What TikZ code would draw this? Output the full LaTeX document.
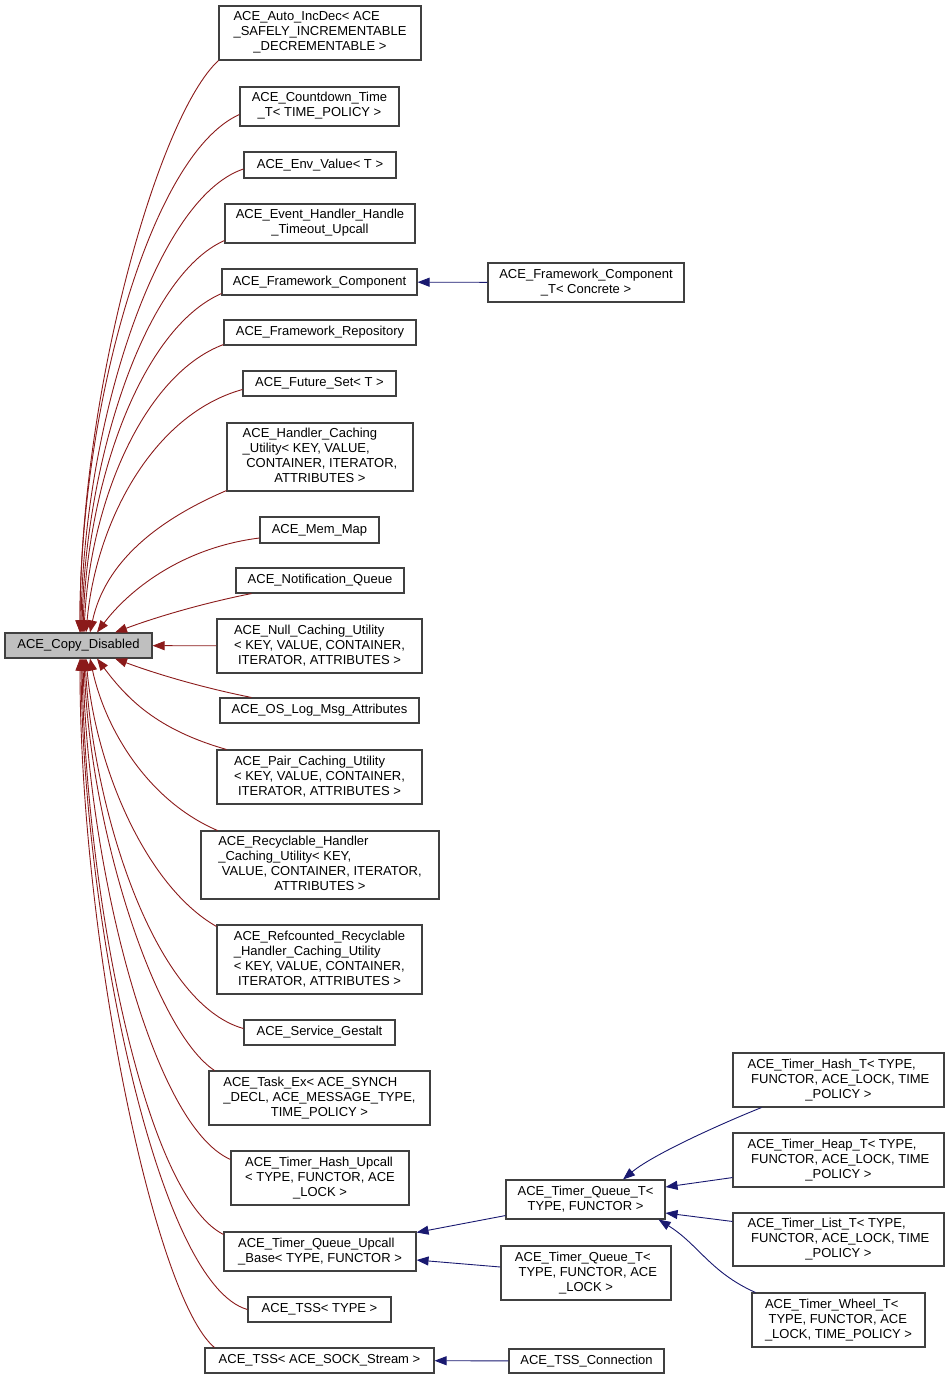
\documentclass[tikz,border=0pt]{standalone}
\usepackage{fontspec}
\setmainfont{Liberation Sans}
\usepackage{xcolor}
\usepackage{tikz}
\usetikzlibrary{arrows.meta}
\definecolor{edgered}{RGB}{139,26,26}
\definecolor{edgeblue}{RGB}{25,25,112}
\newcommand{\lbl}[1]{\begin{tabular}{@{}l@{}}#1\end{tabular}}
\newcommand{\lastln}[1]{\multicolumn{1}{@{}c@{}}{#1}}
\tikzset{
    cls/.style={rectangle, draw=black!75, line width=1.1pt, fill=white, inner sep=0pt, font=\fontsize{13}{15}\selectfont},
    rootcls/.style={cls, fill=gray!50},
    redinh/.style={-{Triangle[length=12pt,width=9pt]}, draw=edgered, fill=none, line width=0.9pt},
    blueinh/.style={-{Triangle[length=12pt,width=9pt]}, draw=edgeblue, fill=none, line width=0.9pt}
}

\begin{document}
\begin{tikzpicture}[x=1pt, y=-1pt]
    \useasboundingbox (0,0) rectangle (949,1380);

    % Base class
    \node[rootcls, minimum width=147pt, minimum height=25pt] (copydis) at (78.5,645.5) {ACE\_Copy\_Disabled};

    % Derived classes
    \node[cls, minimum width=202pt, minimum height=54pt] (autoinc) at (320,33) {\lbl{ACE\_Auto\_IncDec< ACE\\ \_SAFELY\_INCREMENTABLE\\ \lastln{\_DECREMENTABLE >}}};
    \node[cls, minimum width=159pt, minimum height=39pt] (countdown) at (319.5,106.5) {\lbl{ACE\_Countdown\_Time\\ \lastln{\_T< TIME\_POLICY >}}};
    \node[cls, minimum width=152pt, minimum height=26pt] (envvalue) at (320,165) {ACE\_Env\_Value< T >};
    \node[cls, minimum width=190pt, minimum height=39pt] (evhandler) at (320,223.5) {\lbl{ACE\_Event\_Handler\_Handle\\ \lastln{\_Timeout\_Upcall}}};
    \node[cls, minimum width=195pt, minimum height=26pt] (fwcomp) at (319.5,282) {ACE\_Framework\_Component};
    \node[cls, minimum width=192pt, minimum height=25pt] (fwrepo) at (320,332.5) {ACE\_Framework\_Repository};
    \node[cls, minimum width=153pt, minimum height=25pt] (futureset) at (319.5,383.5) {ACE\_Future\_Set< T >};
    \node[cls, minimum width=186pt, minimum height=68pt] (hcaching) at (320,457) {\lbl{ACE\_Handler\_Caching\\ \_Utility< KEY, VALUE,\\ \ CONTAINER, ITERATOR,\\ \lastln{ATTRIBUTES >}}};
    \node[cls, minimum width=119pt, minimum height=26pt] (memmap) at (319.5,530) {ACE\_Mem\_Map};
    \node[cls, minimum width=168pt, minimum height=25pt] (notifq) at (320,580.5) {ACE\_Notification\_Queue};
    \node[cls, minimum width=205pt, minimum height=54pt] (nullcaching) at (319.5,646) {\lbl{ACE\_Null\_Caching\_Utility\\ < KEY, VALUE, CONTAINER,\\ \lastln{ITERATOR, ATTRIBUTES >}}};
    \node[cls, minimum width=199pt, minimum height=25pt] (oslog) at (319.5,710.5) {ACE\_OS\_Log\_Msg\_Attributes};
    \node[cls, minimum width=205pt, minimum height=54pt] (paircaching) at (319.5,777) {\lbl{ACE\_Pair\_Caching\_Utility\\ < KEY, VALUE, CONTAINER,\\ \lastln{ITERATOR, ATTRIBUTES >}}};
    \node[cls, minimum width=238pt, minimum height=68pt] (recyc) at (320,865) {\lbl{ACE\_Recyclable\_Handler\\ \_Caching\_Utility< KEY,\\ \ VALUE, CONTAINER, ITERATOR,\\ \lastln{ATTRIBUTES >}}};
    \node[cls, minimum width=205pt, minimum height=69pt] (refrecyc) at (319.5,959.5) {\lbl{ACE\_Refcounted\_Recyclable\\ \_Handler\_Caching\_Utility\\ < KEY, VALUE, CONTAINER,\\ \lastln{ITERATOR, ATTRIBUTES >}}};
    \node[cls, minimum width=151pt, minimum height=25pt] (gestalt) at (319.5,1032.5) {ACE\_Service\_Gestalt};
    \node[cls, minimum width=221pt, minimum height=54pt] (taskex) at (319.5,1098) {\lbl{ACE\_Task\_Ex< ACE\_SYNCH\\ \_DECL, ACE\_MESSAGE\_TYPE,\\ \lastln{TIME\_POLICY >}}};
    \node[cls, minimum width=178pt, minimum height=54pt] (hashupcall) at (320,1178) {\lbl{ACE\_Timer\_Hash\_Upcall\\ < TYPE, FUNCTOR, ACE\\ \lastln{\_LOCK >}}};
    \node[cls, minimum width=192pt, minimum height=39pt] (upcallbase) at (320,1251.5) {\lbl{ACE\_Timer\_Queue\_Upcall\\ \lastln{\_Base< TYPE, FUNCTOR >}}};
    \node[cls, minimum width=143pt, minimum height=25pt] (tsstype) at (319.5,1309.5) {ACE\_TSS< TYPE >};
    \node[cls, minimum width=229pt, minimum height=25pt] (tsssock) at (319.5,1360.5) {ACE\_TSS< ACE\_SOCK\_Stream >};

    % Second level
    \node[cls, minimum width=196pt, minimum height=39pt] (fwcompt) at (586,282.5) {\lbl{ACE\_Framework\_Component\\ \lastln{\_T< Concrete >}}};
    \node[cls, minimum width=159pt, minimum height=39pt] (tqt) at (585.5,1199.5) {\lbl{ACE\_Timer\_Queue\_T<\\ \lastln{TYPE, FUNCTOR >}}};
    \node[cls, minimum width=170pt, minimum height=54pt] (tqtlock) at (586,1273) {\lbl{ACE\_Timer\_Queue\_T<\\ \ TYPE, FUNCTOR, ACE\\ \lastln{\_LOCK >}}};
    \node[cls, minimum width=155pt, minimum height=24pt] (tssconn) at (586.5,1361) {ACE\_TSS\_Connection};

    % Timer queues
    \node[cls, minimum width=211pt, minimum height=54pt] (timerhash) at (838.5,1080) {\lbl{ACE\_Timer\_Hash\_T< TYPE,\\ \ FUNCTOR, ACE\_LOCK, TIME\\ \lastln{\_POLICY >}}};
    \node[cls, minimum width=211pt, minimum height=54pt] (timerheap) at (838.5,1160) {\lbl{ACE\_Timer\_Heap\_T< TYPE,\\ \ FUNCTOR, ACE\_LOCK, TIME\\ \lastln{\_POLICY >}}};
    \node[cls, minimum width=211pt, minimum height=53pt] (timerlist) at (838.5,1239.5) {\lbl{ACE\_Timer\_List\_T< TYPE,\\ \ FUNCTOR, ACE\_LOCK, TIME\\ \lastln{\_POLICY >}}};
    \node[cls, minimum width=173pt, minimum height=54pt] (timerwheel) at (838.5,1320) {\lbl{ACE\_Timer\_Wheel\_T<\\ \ TYPE, FUNCTOR, ACE\\ \lastln{\_LOCK, TIME\_POLICY >}}};

    % Connections to the base class (above)
    \draw[redinh] (autoinc.south west) .. controls +(-60,55) and +(0,-240) .. ([xshift=1.5pt]copydis.north);
    \draw[redinh] ([yshift=-8pt]countdown.west) .. controls +(-90,40) and +(0,-220) .. ([xshift=1.5pt]copydis.north);
    \draw[redinh] ([yshift=-4pt]envvalue.west) .. controls +(-90,30) and +(2,-200) .. ([xshift=2.5pt]copydis.north);
    \draw[redinh] ([yshift=3pt]evhandler.south west) .. controls +(-80,35) and +(3,-170) .. ([xshift=3.5pt]copydis.north);
    \draw[redinh] ([yshift=2pt]fwcomp.south west) .. controls +(-80,35) and +(4,-150) .. ([xshift=4.5pt]copydis.north);
    \draw[redinh] ([yshift=1pt]fwrepo.south west) .. controls +(-80,30) and +(6,-130) .. ([xshift=5.5pt]copydis.north);
    \draw[redinh] ([yshift=-6pt]futureset.west) .. controls +(-90,25) and +(10,-110) .. ([xshift=7.5pt]copydis.north);
    \draw[redinh] ([yshift=1pt]hcaching.south west) .. controls +(-70,30) and +(15,-70) .. ([xshift=11.5pt]copydis.north);
    \draw[redinh] ([yshift=-8pt]memmap.west) .. controls +(-80,10) and +(30,-40) .. ([xshift=18.5pt]copydis.north);
    \draw[redinh] ([xshift=16pt]notifq.south west) .. controls +(-50,10) and +(40,-15) .. ([xshift=36.5pt]copydis.north);
    \draw[redinh] (nullcaching) -- (copydis);

    % Connections to the base class (below)
    \draw[redinh] ([xshift=32pt]oslog.north west) .. controls +(-50,-10) and +(40,15) .. ([xshift=36.5pt]copydis.south);
    \draw[redinh] ([xshift=10pt]paircaching.north west) .. controls +(-70,-20) and +(30,40) .. ([xshift=18.5pt]copydis.south);
    \draw[redinh] ([xshift=17pt]recyc.north west) .. controls +(-70,-30) and +(15,70) .. ([xshift=11.5pt]copydis.south);
    \draw[redinh] ([yshift=-2pt]refrecyc.north west) .. controls +(-70,-40) and +(10,110) .. ([xshift=7.5pt]copydis.south);
    \draw[redinh] ([yshift=4pt]gestalt.west) .. controls +(-90,-25) and +(8,150) .. ([xshift=6.5pt]copydis.south);
    \draw[redinh] ([xshift=6pt]taskex.north west) .. controls +(-60,-40) and +(6,170) .. ([xshift=5.5pt]copydis.south);
    \draw[redinh] ([yshift=-9pt]hashupcall.north west) .. controls +(-80,-35) and +(4,200) .. ([xshift=4.5pt]copydis.south);
    \draw[redinh] ([yshift=-3pt]upcallbase.north west) .. controls +(-80,-40) and +(3,230) .. ([xshift=3.5pt]copydis.south);
    \draw[redinh] (tsstype.west) .. controls +(-90,-25) and +(2,260) .. ([xshift=2.5pt]copydis.south);
    \draw[redinh] ([xshift=10pt]tsssock.north west) .. controls +(-60,-50) and +(0,280) .. ([xshift=1.5pt]copydis.south);

    % Second level connections
    \draw[blueinh] (fwcompt) -- (fwcomp);
    \draw[blueinh] ([yshift=4pt]tqt.south west) -- ([yshift=-1pt]upcallbase.north east);
    \draw[blueinh] ([yshift=6pt]tqtlock.west) -- ([yshift=-8.5pt]upcallbase.east);
    \draw[blueinh] (tssconn) -- (tsssock);
    \draw[blueinh] ([xshift=29pt]timerhash.south west) .. controls +(-40,16) and +(30,-25) .. ([xshift=37.5pt]tqt.north);
    \draw[blueinh] ([yshift=10pt]timerheap.south west) -- ([yshift=12.5pt]tqt.east);
    \draw[blueinh] ([yshift=-9pt]timerlist.north west) -- ([yshift=-13.5pt]tqt.east);
    \draw[blueinh] ([xshift=4pt]timerwheel.north west) .. controls +(-45,-20) and +(40,25) .. ([xshift=-7pt]tqt.south east);
\end{tikzpicture}
\end{document}
